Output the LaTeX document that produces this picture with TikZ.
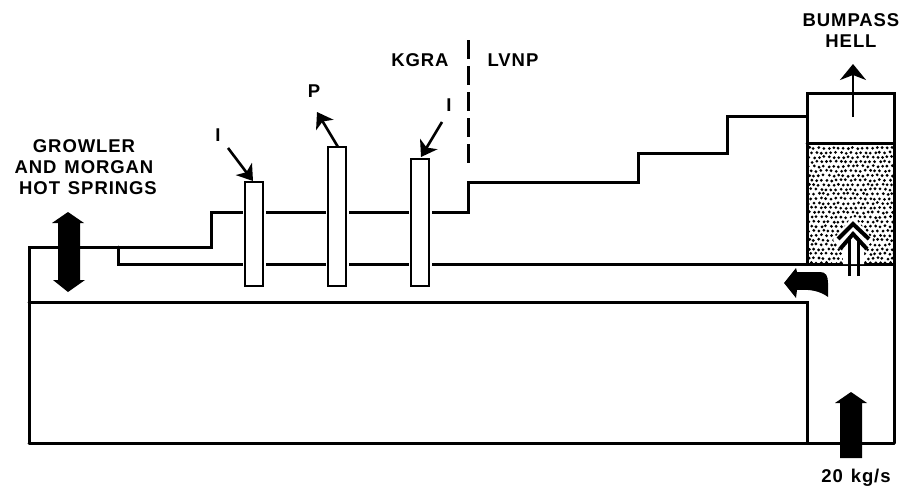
\documentclass[tikz,border=0pt]{standalone}
\usepackage{fontspec}
\setmainfont{Liberation Sans}
\newfontfamily\labfont[LetterSpace=5,WordSpace=1.3]{Liberation Sans Bold}
\usetikzlibrary{arrows.meta}
\tikzset{
  wall/.style={line width=3pt,line cap=round,line join=miter},
  wellbox/.style={draw,line width=2.4pt,fill=white,inner sep=0pt,minimum width=18pt,outer sep=0pt},
  wellhalo/.style={fill=white,inner sep=0pt,minimum width=23pt},
  lab/.style={font=\fontsize{18.5}{21}\labfont,align=center,inner sep=0pt},
  thinarrow/.style={line width=2.6pt,-{Stealth[length=15pt,width=20pt,inset=4pt]}},
  solidarrow/.style={fill=black,draw=none}
}
\begin{document}
\begin{tikzpicture}[x=1pt,y=-1pt]
\useasboundingbox (0,0) rectangle (902,490);
\fill[white] (0,0) rectangle (902,490);
% stippled reservoir
\begin{scope}
\clip (808,144) rectangle (893,263);
\pgfmathsetseed{4711}
\foreach \i in {0,...,18}{
  \foreach \j in {0,...,25}{
    \pgfmathsetmacro{\dx}{809+\i*4.9+mod(\j,2)*2.45+0.8*rand}
    \pgfmathsetmacro{\dy}{148+\j*4.6+0.8*rand}
    \fill (\dx,\dy) circle (1.55pt);
  }
}
\end{scope}
% walls
\draw[wall] (29,443) -- (29,247) -- (211,247) -- (211,212) -- (468,212) -- (468,182) -- (638,182) -- (638,153) -- (727,153) -- (727,116) -- (807,116);
\draw[wall] (118,247) -- (118,264) -- (894,264);
\draw[wall] (29,302) -- (807,302) -- (807,443);
\draw[wall] (29,443) -- (894,443);
\draw[wall] (807,264) -- (807,93) -- (894,93) -- (894,443);
\draw[wall] (807,143) -- (894,143);
\draw[wall,dash pattern=on 19pt off 7pt,line cap=butt] (468,40) -- (468,167);
% wells
\node[wellhalo,minimum height=104pt] at (254,234) {};
\node[wellhalo,minimum height=139pt] at (337,216.5) {};
\node[wellhalo,minimum height=127pt] at (420,222.5) {};
\node[wellbox,minimum height=104pt] (w1) at (254,234) {};
\node[wellbox,minimum height=139pt] (w2) at (337,216.5) {};
\node[wellbox,minimum height=127pt] (w3) at (420,222.5) {};
% labels
\node[lab] (growler) at (84,167) {GROWLER\\AND MORGAN\\\hspace*{8pt}HOT SPRINGS};
\node[lab] (kgra) at (420,60) {KGRA};
\node[lab] (lvnp) at (513,60) {LVNP};
\node[lab] (bumpass) at (851,31) {BUMPASS\\HELL};
\node[lab] (pl) at (314,91) {P};
\node[lab] (i1) at (218,135) {I};
\node[lab] (i2) at (449,105) {I};
\node[lab] (rate) at (856,478) {20 kg/s};
% thin arrows
\coordinate (i1s) at (228,148);
\coordinate (i2s) at (442,122);
\coordinate (bs) at (853,117);
\coordinate (bt) at (853,64);
\draw[thinarrow] (i1s) -- (253,181);
\draw[thinarrow] (w2.north) ++(1,0) -- (317,112);
\draw[thinarrow] (i2s) -- (421,157);
\draw[thinarrow,-{Stealth[length=16pt,width=26pt,inset=5pt]}] (bs) -- (bt);
% solid arrows
\fill[solidarrow] (68,212) -- (84,223) -- (80,223) -- (80,280) -- (85,280) -- (68,292) -- (53,280) -- (58,280) -- (58,223) -- (52,223) -- cycle;
\fill[solidarrow] (851,392) -- (867,403) -- (862,403) -- (862,458) -- (840,458) -- (840,403) -- (835,403) -- cycle;
\fill[solidarrow] (784,283) -- (796,268) -- (797,272) -- (820,272) .. controls (826,272) and (828,276) .. (828,283) -- (828,297) .. controls (820,291) and (810,289) .. (797,290) -- (796,298) -- cycle;
% double arrow
\fill[white] (853,216) -- (873,240) -- (864,250) -- (864,264) -- (843,264) -- (843,250) -- (833,240) -- cycle;
\draw[line width=3pt] (849,276) -- (849,238) (858,276) -- (858,238);
\draw[line width=4pt,line join=miter] (838,239) -- (853,224) -- (869,239);
\draw[line width=4pt,line join=miter] (840,249) -- (853,234) -- (867,249);
\end{tikzpicture}
\end{document}
